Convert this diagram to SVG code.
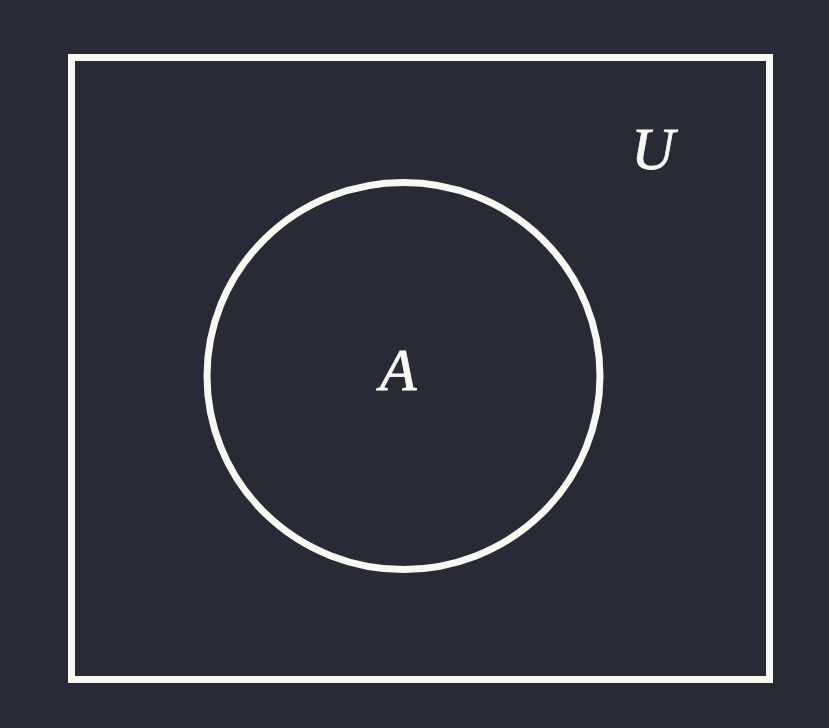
<svg xmlns="http://www.w3.org/2000/svg" width="829" height="728" viewBox="0 0 829 728">
<style>
.shape{fill:none;stroke:#f8f8f2;stroke-width:7}
.lbl{fill:#f8f8f2;stroke:#f8f8f2;stroke-width:0.8;font-family:"Liberation Serif","DejaVu Serif",serif;font-style:italic;font-size:60px;text-anchor:middle}
</style>
<rect width="829" height="728" fill="#282a36"/>
<g id="universe">
<rect class="shape" x="71.5" y="57.5" width="698" height="622"/>
<text class="lbl" x="653" y="169">U</text>
</g>
<g id="setA">
<ellipse class="shape" cx="403.5" cy="376" rx="196.5" ry="193.5"/>
<text class="lbl" x="398" y="390">A</text>
</g>
<g id="connectors"></g>
</svg>
